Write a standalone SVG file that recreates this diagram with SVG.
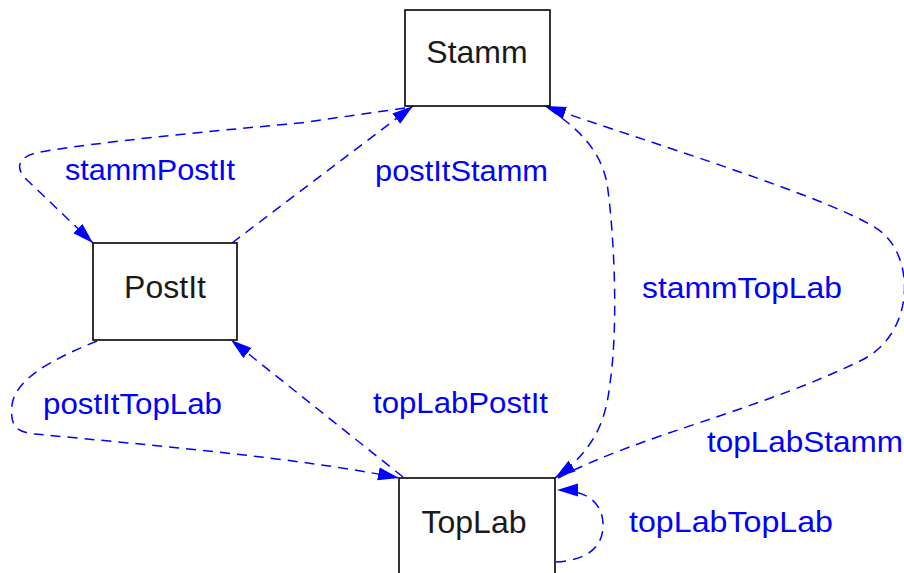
<svg xmlns="http://www.w3.org/2000/svg" width="904" height="573" viewBox="0 0 904 573">
  <defs>
    <marker id="arrow" markerUnits="userSpaceOnUse" markerWidth="22" markerHeight="14" refX="21" refY="6.5" orient="auto">
      <path d="M0,0 L21,6.5 L0,13 z" fill="#0000ff"/>
    </marker>
    <style>
      .box { fill: #ffffff; stroke: #000000; stroke-width: 1.6; }
      .name { font-family: "Liberation Sans", Arial, sans-serif; font-size: 32px; fill: #1a1a1a; text-anchor: middle; }
      .edge { fill: none; stroke: #0000ff; stroke-width: 1.5; stroke-dasharray: 10 7; marker-end: url(#arrow); }
      .label { font-family: "Liberation Sans", Arial, sans-serif; font-size: 30px; fill: #0000ff; }
    </style>
  </defs>

  <rect width="904" height="573" fill="#ffffff"/>

  <!-- connectors -->
  <g id="edges">
    <path id="stammPostIt" class="edge" d="M405,108 L300,123 C200,132 100,142 40,152 C18,156 14,168 27,180 L93,243"/>
    <path id="postItStamm" class="edge" d="M232,243 L413,106"/>
    <path id="stammTopLab" class="edge" d="M548,108 C580,130 600,150 607,183 C615,240 618,330 610,383 C606,420 595,450 555,478"/>
    <path id="topLabStamm" class="edge" d="M558,478 C640,435 760,410 862,360 C912,335 916,265 884,234 C850,203 640,140 545,106"/>
    <path id="topLabPostIt" class="edge" d="M403,477 L231,340"/>
    <path id="postItTopLab" class="edge" d="M97,341 C50,360 15,380 12,405 C10,425 15,432 35,434 C150,445 300,458 399,478"/>
    <path id="topLabTopLab" class="edge" d="M556,562 C590,560 604,545 603,523 C602,505 590,490 557,490"/>
  </g>

  <!-- edge labels -->
  <g id="edge-labels">
    <text class="label" x="65" y="180" textLength="170" lengthAdjust="spacingAndGlyphs">stammPostIt</text>
    <text class="label" x="375" y="181" textLength="173" lengthAdjust="spacingAndGlyphs">postItStamm</text>
    <text class="label" x="642" y="298" textLength="200" lengthAdjust="spacingAndGlyphs">stammTopLab</text>
    <text class="label" x="43" y="414" textLength="179" lengthAdjust="spacingAndGlyphs">postItTopLab</text>
    <text class="label" x="373" y="413" textLength="175" lengthAdjust="spacingAndGlyphs">topLabPostIt</text>
    <text class="label" x="707" y="452" textLength="196" lengthAdjust="spacingAndGlyphs">topLabStamm</text>
    <text class="label" x="629" y="532" textLength="204" lengthAdjust="spacingAndGlyphs">topLabTopLab</text>
  </g>

  <!-- nodes -->
  <g id="Stamm">
    <rect class="box" x="405" y="10" width="145" height="96"/>
    <text class="name" x="477" y="63">Stamm</text>
  </g>
  <g id="PostIt">
    <rect class="box" x="93" y="243" width="144" height="97"/>
    <text class="name" x="165" y="298">PostIt</text>
  </g>
  <g id="TopLab">
    <rect class="box" x="399" y="478" width="156" height="98"/>
    <text class="name" x="474" y="533">TopLab</text>
  </g>
</svg>
